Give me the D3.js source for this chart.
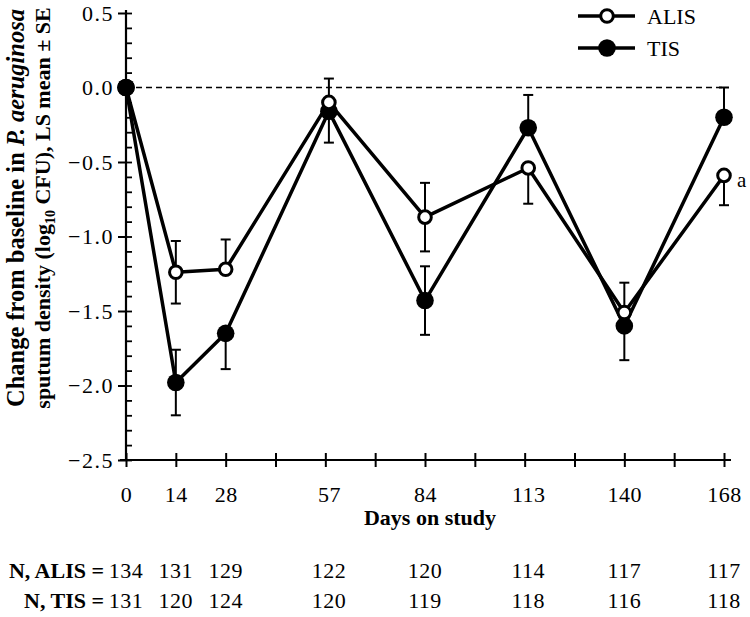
<!DOCTYPE html>
<html>
<head>
<meta charset="utf-8">
<script src="https://cdn.jsdelivr.net/npm/d3@7/dist/d3.min.js"></script>
<style>
  html, body { margin: 0; padding: 0; background: #fff; }
  svg { display: block; font-family: "Liberation Serif", "Times New Roman", serif; }
</style>
</head>
<body>
<svg id="chart" width="750" height="617"></svg>
<script>
// ---------- data ----------
const days = [0, 14, 28, 57, 84, 113, 140, 168];
const gridDays = [0, 14, 28, 42, 56, 70, 84, 98, 112, 126, 140, 154, 168];
const yMajorTicks = [-2.5, -2.0, -1.5, -1.0, -0.5, 0.0, 0.5];
const alisMean = [0, -1.24, -1.22, -0.10, -0.87, -0.54, -1.51, -0.59];
const alisSE   = [0, 0.21, 0.20, 0.16, 0.23, 0.24, 0.20, 0.20];
const alisBar  = ["none", "both", "up", "up", "both", "down", "up", "down"];
const tisMean  = [0, -1.98, -1.65, -0.16, -1.43, -0.27, -1.60, -0.20];
const tisSE    = [0, 0.22, 0.24, 0.21, 0.23, 0.22, 0.23, 0.20];
const tisBar   = ["none", "both", "down", "down", "both", "up", "down", "up"];
const nAlis = [134, 131, 129, 122, 120, 114, 117, 117];
const nTis  = [131, 120, 124, 120, 119, 118, 116, 118];
const seriesNames = ["ALIS", "TIS"];

// ---------- setup ----------
const svg = d3.select("#chart");
const x = d3.scaleLinear().domain([0, 168]).range([126, 724]);
const y = d3.scaleLinear().domain([-2.5, 0.5]).range([460, 13]);
const FS = 22;
const FONT = "Liberation Serif, Times New Roman, serif";

// ---------- axes ----------
const yAxis = svg.append("g").attr("transform", `translate(${x(0)},0)`)
  .call(d3.axisLeft(y).tickValues(yMajorTicks).tickSize(8).tickPadding(4).tickFormat(d3.format(".1f")));
yAxis.select(".domain").remove();
yAxis.selectAll("line").attr("stroke", "#000").attr("stroke-width", 2);
yAxis.selectAll("text").attr("font-size", FS).attr("fill", "#000")
  .attr("font-family", FONT).attr("letter-spacing", 1.5);

const minor = d3.range(-25, 6).map(v => v / 10);
const yMinor = svg.append("g").attr("transform", `translate(${x(0)},0)`)
  .call(d3.axisRight(y).tickValues(minor).tickSize(6).tickFormat(""));
yMinor.select(".domain").remove();
yMinor.selectAll("line").attr("stroke", "#000").attr("stroke-width", 1.8);

svg.append("line").attr("x1", x(0)).attr("x2", x(0)).attr("y1", y(0.5) - 3).attr("y2", y(-2.5))
  .attr("stroke", "#000").attr("stroke-width", 2.2);

// x axis tick marks crossing the axis line
[d3.axisBottom, d3.axisTop].forEach(ax => {
  const g = svg.append("g").attr("transform", `translate(0,${y(-2.5)})`)
    .call(ax(x).tickValues(gridDays).tickSize(7).tickFormat(""));
  g.select(".domain").remove();
  g.selectAll("line").attr("stroke", "#000").attr("stroke-width", 2);
});
svg.append("line").attr("x1", x(0) - 6).attr("x2", x(168) + 7).attr("y1", y(-2.5)).attr("y2", y(-2.5))
  .attr("stroke", "#000").attr("stroke-width", 2.2);

// x labels
const xLab = svg.append("g").attr("transform", `translate(0,${y(-2.5)})`)
  .call(d3.axisBottom(x).tickValues(days).tickSize(0).tickFormat(d3.format("d")));
xLab.select(".domain").remove();
xLab.selectAll("text").attr("y", 42).attr("dy", 0).attr("font-size", FS).attr("fill", "#000")
  .attr("font-family", FONT).attr("letter-spacing", 0.5);

svg.append("text").attr("x", 430).attr("y", 525).attr("text-anchor", "middle")
  .attr("font-size", FS).attr("font-weight", "bold").text("Days on study");

// y label
const yl = svg.append("g").attr("transform", "translate(0,208) rotate(-90)");
const t1 = yl.append("text").attr("x", 0).attr("y", 24).attr("text-anchor", "middle")
  .attr("font-size", 24.5).attr("font-weight", "bold");
t1.append("tspan").text("Change from baseline in ");
t1.append("tspan").attr("font-style", "italic").text("P. aeruginosa");
const t2 = yl.append("text").attr("x", 0).attr("y", 50).attr("text-anchor", "middle")
  .attr("font-size", 22).attr("font-weight", "bold");
t2.append("tspan").text("sputum density (log");
t2.append("tspan").attr("font-size", 14).attr("dy", 5).text("10");
t2.append("tspan").attr("dy", -5).text(" CFU), LS mean \u00b1 SE");

// zero reference line
svg.append("line").attr("x1", x(0)).attr("x2", x(168) + 2).attr("y1", y(0)).attr("y2", y(0))
  .attr("stroke", "#000").attr("stroke-width", 1.6).attr("stroke-dasharray", "6,4");

// ---------- series ----------
const series = [
  { name: seriesNames[0], mean: alisMean, se: alisSE, bar: alisBar, filled: false },
  { name: seriesNames[1], mean: tisMean, se: tisSE, bar: tisBar, filled: true }
];

// error bars
series.forEach(s => {
  const g = svg.append("g");
  days.forEach((d, i) => {
    if (s.bar[i] === "none") return;
    const lo = (s.bar[i] === "up") ? s.mean[i] : s.mean[i] - s.se[i];
    const hi = (s.bar[i] === "down") ? s.mean[i] : s.mean[i] + s.se[i];
    g.append("line").attr("x1", x(d)).attr("x2", x(d)).attr("y1", y(lo)).attr("y2", y(hi))
      .attr("stroke", "#000").attr("stroke-width", 2);
    if (s.bar[i] !== "up") g.append("line").attr("x1", x(d) - 5).attr("x2", x(d) + 5)
      .attr("y1", y(lo)).attr("y2", y(lo)).attr("stroke", "#000").attr("stroke-width", 2);
    if (s.bar[i] !== "down") g.append("line").attr("x1", x(d) - 5).attr("x2", x(d) + 5)
      .attr("y1", y(hi)).attr("y2", y(hi)).attr("stroke", "#000").attr("stroke-width", 2);
  });
});

// lines
const line = d3.line().x((d, i) => x(days[i])).y(d => y(d));
series.forEach(s => {
  svg.append("path").datum(s.mean).attr("d", line).attr("fill", "none")
    .attr("stroke", "#000").attr("stroke-width", 3.5).attr("stroke-linejoin", "round");
});

// markers
function marker(g, cx, cy, filled) {
  if (filled) {
    g.append("circle").attr("cx", cx).attr("cy", cy).attr("r", 8.8).attr("fill", "#000");
  } else {
    g.append("circle").attr("cx", cx).attr("cy", cy).attr("r", 6.3)
      .attr("fill", "#fff").attr("stroke", "#000").attr("stroke-width", 3);
  }
}
const mk = svg.append("g");
[series[1], series[0]].forEach(s => {
  days.forEach((d, i) => marker(mk, x(d), y(s.mean[i]), s.filled));
});
// shared baseline point drawn with TIS marker on top
marker(mk, x(days[0]), y(tisMean[0]), true);

// annotation
svg.append("text").attr("x", x(168) + 13).attr("y", y(alisMean[7]) + 12)
  .attr("font-size", 21).text("a");

// legend
const leg = svg.append("g");
series.forEach((s, i) => {
  const ly = 16 + i * 32;
  leg.append("line").attr("x1", 578).attr("x2", 635).attr("y1", ly).attr("y2", ly)
    .attr("stroke", "#000").attr("stroke-width", 3.5);
  marker(leg, 607, ly, s.filled);
  leg.append("text").attr("x", 647).attr("y", ly + 8).attr("font-size", FS).text(s.name);
});

// N table
const tbl = svg.append("g");
[["N, ALIS =", nAlis, 578], ["N, TIS =", nTis, 608]].forEach(([lab, arr, by]) => {
  tbl.append("text").attr("x", 104).attr("y", by).attr("text-anchor", "end")
    .attr("font-size", FS).attr("font-weight", "bold").text(lab);
  arr.forEach((v, i) => {
    tbl.append("text").attr("x", x(days[i])).attr("y", by).attr("text-anchor", "middle")
      .attr("font-size", FS).attr("letter-spacing", 0.5).text(v);
  });
});
</script>
</body>
</html>
